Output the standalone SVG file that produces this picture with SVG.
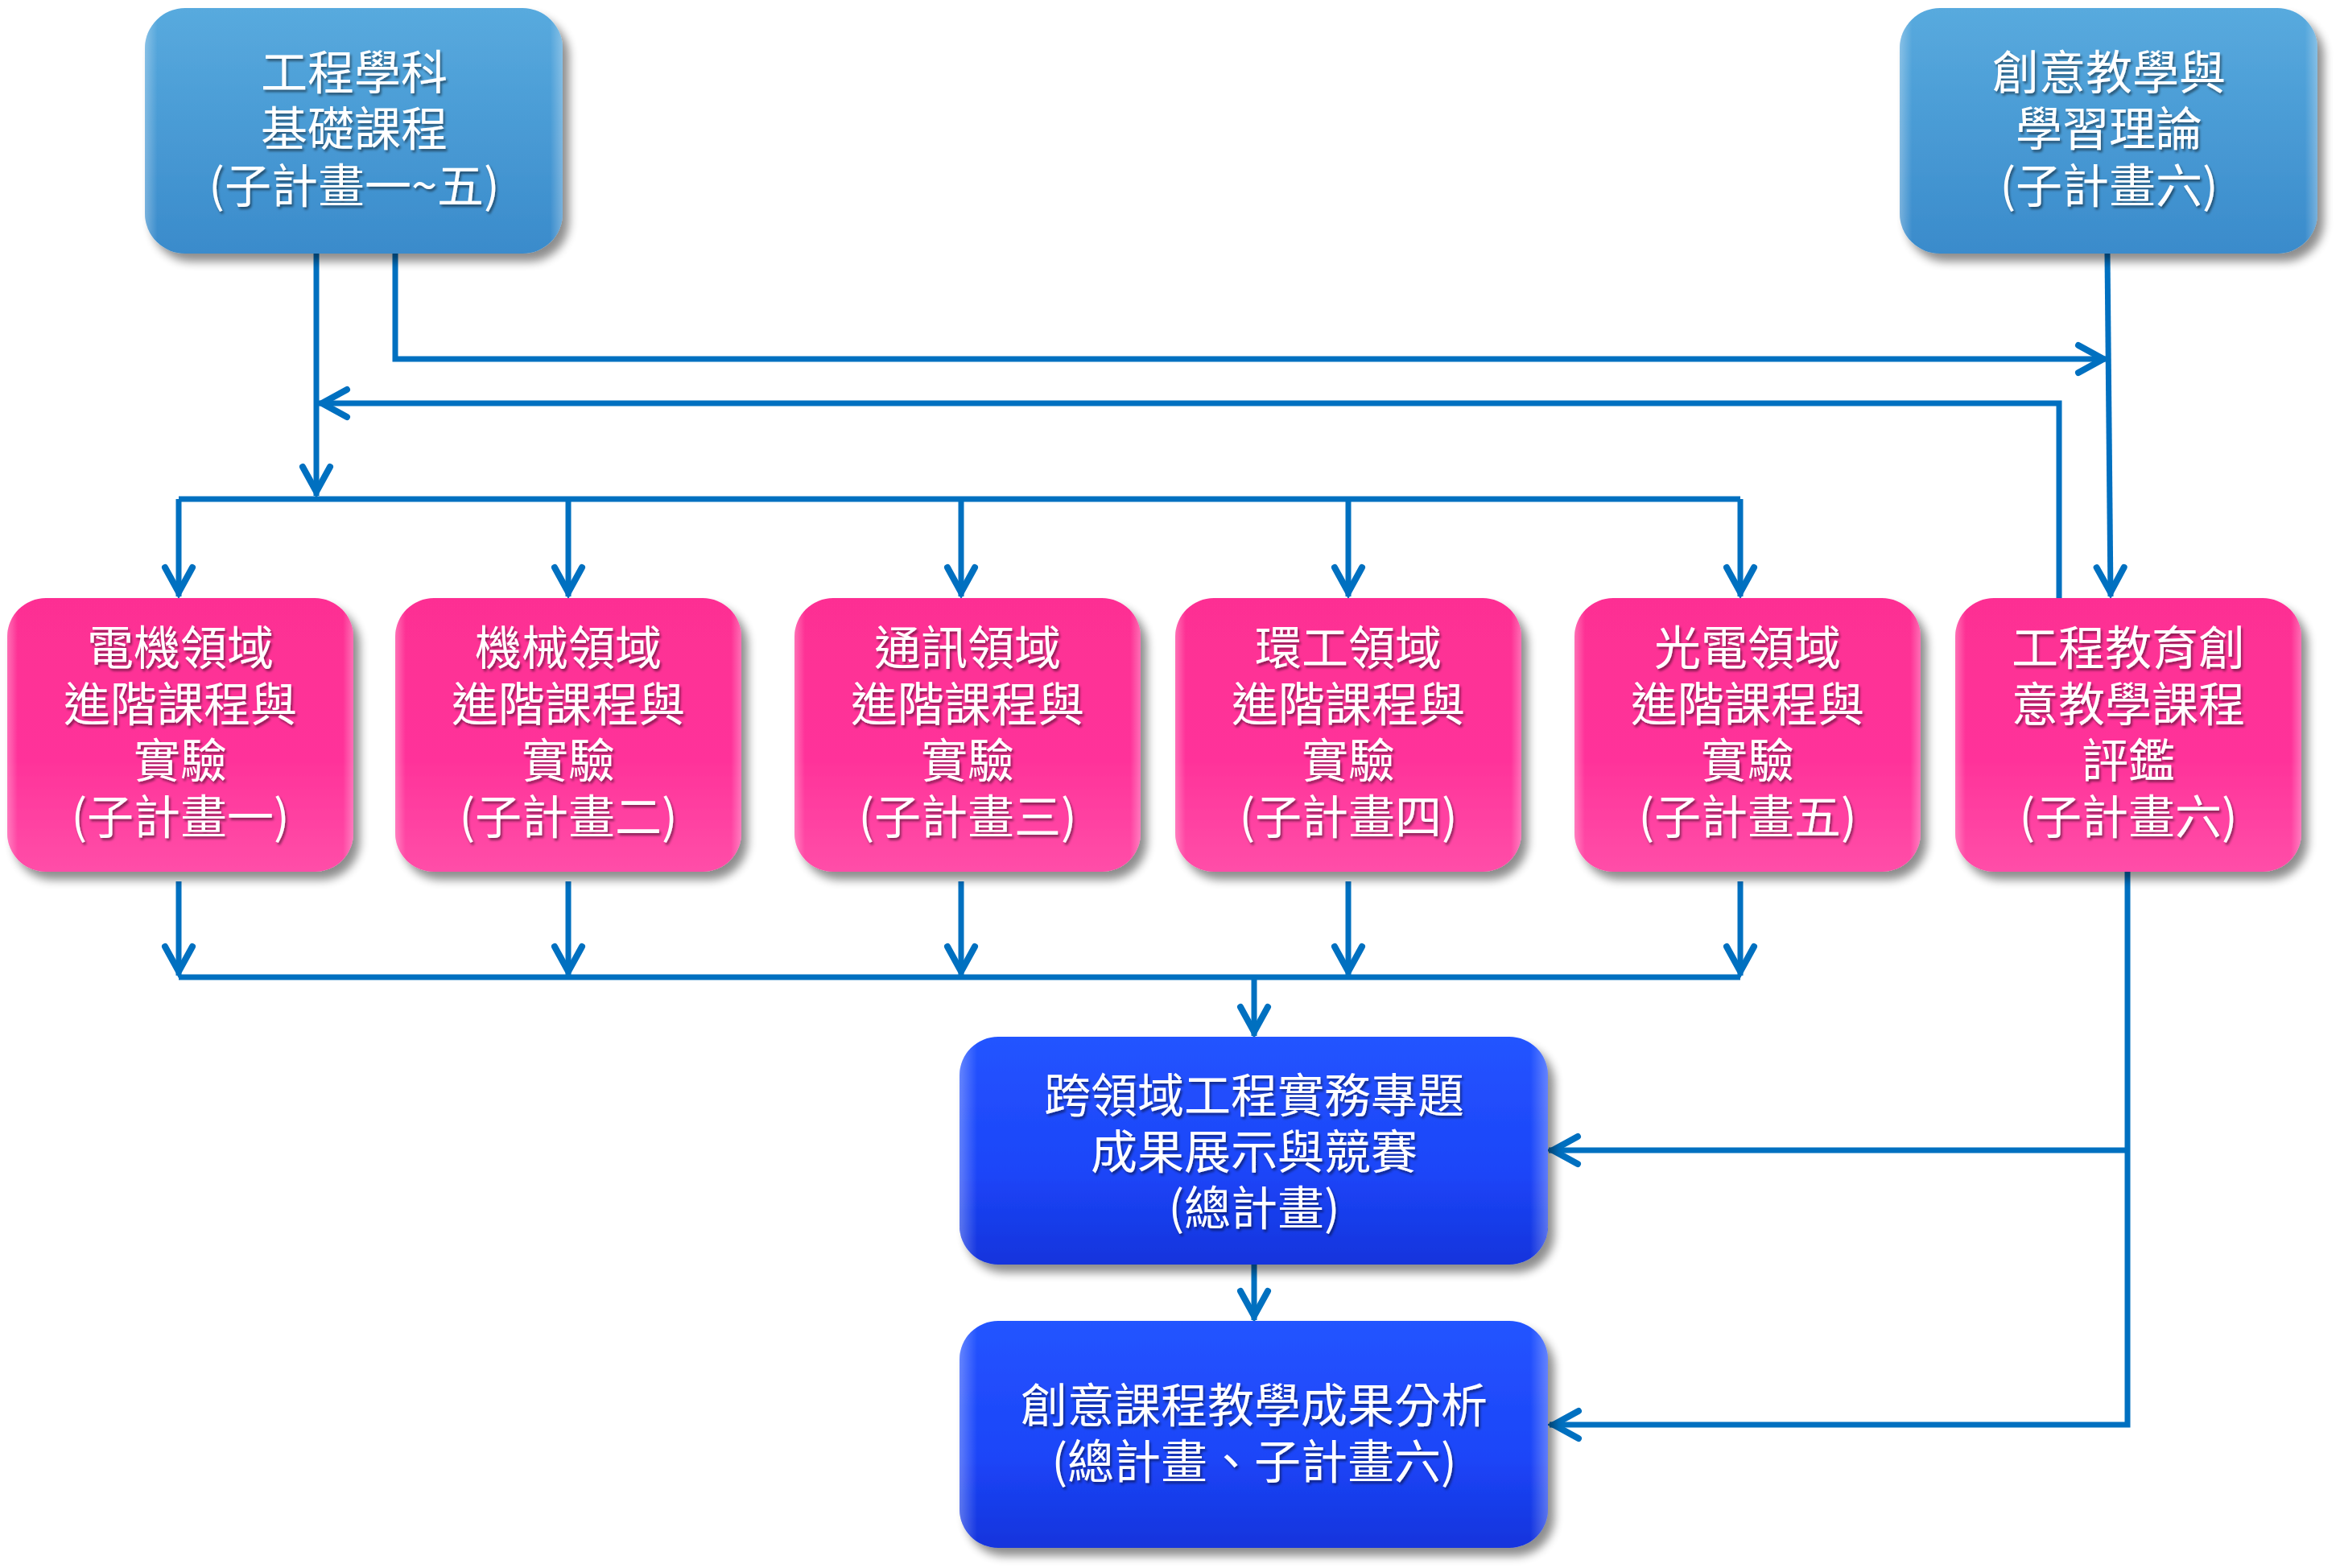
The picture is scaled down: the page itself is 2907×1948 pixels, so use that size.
<svg xmlns="http://www.w3.org/2000/svg" width="2907" height="1948" viewBox="0 0 2907 1948">
<defs>
<linearGradient id="gTop" x1="0" y1="0" x2="0" y2="1">
<stop offset="0" stop-color="#58aade"/>
<stop offset="1" stop-color="#3a8bcb"/>
</linearGradient>
<linearGradient id="gPink" x1="0" y1="0" x2="0" y2="1">
<stop offset="0" stop-color="#fd2f93"/>
<stop offset="0.6" stop-color="#ff339a"/>
<stop offset="1" stop-color="#ff4ea8"/>
</linearGradient>
<linearGradient id="gBlue" x1="0" y1="0" x2="0" y2="1">
<stop offset="0" stop-color="#2454ff"/>
<stop offset="0.6" stop-color="#1c45f8"/>
<stop offset="1" stop-color="#1434dc"/>
</linearGradient>
<linearGradient id="gEdge" x1="0" y1="0" x2="1" y2="0">
<stop offset="0" stop-color="#ffffff" stop-opacity="0.3"/>
<stop offset="0.03" stop-color="#ffffff" stop-opacity="0"/>
<stop offset="0.97" stop-color="#ffffff" stop-opacity="0"/>
<stop offset="1" stop-color="#ffffff" stop-opacity="0.3"/>
</linearGradient>
<filter id="shadow" x="-10%" y="-10%" width="125%" height="130%">
<feGaussianBlur in="SourceAlpha" stdDeviation="6"/>
<feOffset dx="8" dy="10" result="o"/>
<feComponentTransfer><feFuncA type="linear" slope="0.45"/></feComponentTransfer>
<feMerge><feMergeNode/><feMergeNode in="SourceGraphic"/></feMerge>
</filter>
<filter id="tshadow" x="-5%" y="-20%" width="115%" height="150%">
<feDropShadow dx="2" dy="3" stdDeviation="1.5" flood-color="#000000" flood-opacity="0.45"/>
</filter>
<marker id="arr" markerUnits="userSpaceOnUse" markerWidth="60" markerHeight="60" viewBox="-50 -30 60 60" refX="0" refY="0" orient="auto" overflow="visible">
<path d="M-36,-17 L-5,0 L-36,17" fill="none" stroke="#0070c0" stroke-width="8" stroke-linecap="round" stroke-linejoin="miter"/>
</marker>
</defs>
<style>
.t{font-family:"Noto Sans CJK TC","Noto Sans CJK SC",sans-serif;font-size:58px;fill:#ffffff;text-anchor:middle;filter:url(#tshadow)}
.c{fill:none;stroke:#0070c0;stroke-width:7}
.a{marker-end:url(#arr)}
.edge{fill:url(#gEdge)}
</style>
<rect width="2907" height="1948" fill="#ffffff"/>

<g id="connectors">
<path class="c a" d="M393,315 V616"/>
<path class="c a" d="M491,315 V446 H2618"/>
<path class="c a" d="M2618,315 L2622,741"/>
<path class="c a" d="M2558,743 V501 H395"/>
<path class="c" d="M222,620 H2162"/>
<path class="c a" d="M222,620 V741"/>
<path class="c a" d="M706,620 V741"/>
<path class="c a" d="M1194,620 V741"/>
<path class="c a" d="M1675,620 V741"/>
<path class="c a" d="M2162,620 V741"/>
<path class="c a" d="M222,1095 V1212"/>
<path class="c a" d="M706,1095 V1212"/>
<path class="c a" d="M1194,1095 V1212"/>
<path class="c a" d="M1675,1095 V1212"/>
<path class="c a" d="M2162,1095 V1212"/>
<path class="c" d="M222,1214 H2162"/>
<path class="c a" d="M1558,1214 V1287"/>
<path class="c a" d="M1558,1571 V1640"/>
<path class="c a" d="M2643,1083 V1770 H1925"/>
<path class="c a" d="M2643,1429 H1924"/>
</g>

<g id="n-basic">
<rect x="180" y="10" width="519" height="305" rx="50" fill="url(#gTop)" filter="url(#shadow)"/>
<rect x="180" y="10" width="519" height="305" rx="50" class="edge"/>
<text class="t" x="440" y="111">工程學科</text>
<text class="t" x="440" y="181">基礎課程</text>
<text class="t" x="440" y="252">(子計畫一~五)</text>
</g>

<g id="n-theory">
<rect x="2360" y="10" width="519" height="305" rx="50" fill="url(#gTop)" filter="url(#shadow)"/>
<rect x="2360" y="10" width="519" height="305" rx="50" class="edge"/>
<text class="t" x="2620" y="111">創意教學與</text>
<text class="t" x="2620" y="181">學習理論</text>
<text class="t" x="2620" y="252">(子計畫六)</text>
</g>

<g id="n-ee">
<rect x="9" y="743" width="430" height="340" rx="48" fill="url(#gPink)" filter="url(#shadow)"/>
<rect x="9" y="743" width="430" height="340" rx="48" class="edge"/>
<text class="t" x="224" y="826">電機領域</text>
<text class="t" x="224" y="896">進階課程與</text>
<text class="t" x="224" y="966">實驗</text>
<text class="t" x="224" y="1036">(子計畫一)</text>
</g>

<g id="n-me">
<rect x="491" y="743" width="430" height="340" rx="48" fill="url(#gPink)" filter="url(#shadow)"/>
<rect x="491" y="743" width="430" height="340" rx="48" class="edge"/>
<text class="t" x="706" y="826">機械領域</text>
<text class="t" x="706" y="896">進階課程與</text>
<text class="t" x="706" y="966">實驗</text>
<text class="t" x="706" y="1036">(子計畫二)</text>
</g>

<g id="n-comm">
<rect x="987" y="743" width="430" height="340" rx="48" fill="url(#gPink)" filter="url(#shadow)"/>
<rect x="987" y="743" width="430" height="340" rx="48" class="edge"/>
<text class="t" x="1202" y="826">通訊領域</text>
<text class="t" x="1202" y="896">進階課程與</text>
<text class="t" x="1202" y="966">實驗</text>
<text class="t" x="1202" y="1036">(子計畫三)</text>
</g>

<g id="n-env">
<rect x="1460" y="743" width="430" height="340" rx="48" fill="url(#gPink)" filter="url(#shadow)"/>
<rect x="1460" y="743" width="430" height="340" rx="48" class="edge"/>
<text class="t" x="1675" y="826">環工領域</text>
<text class="t" x="1675" y="896">進階課程與</text>
<text class="t" x="1675" y="966">實驗</text>
<text class="t" x="1675" y="1036">(子計畫四)</text>
</g>

<g id="n-opto">
<rect x="1956" y="743" width="430" height="340" rx="48" fill="url(#gPink)" filter="url(#shadow)"/>
<rect x="1956" y="743" width="430" height="340" rx="48" class="edge"/>
<text class="t" x="2171" y="826">光電領域</text>
<text class="t" x="2171" y="896">進階課程與</text>
<text class="t" x="2171" y="966">實驗</text>
<text class="t" x="2171" y="1036">(子計畫五)</text>
</g>

<g id="n-eval">
<rect x="2429" y="743" width="430" height="340" rx="48" fill="url(#gPink)" filter="url(#shadow)"/>
<rect x="2429" y="743" width="430" height="340" rx="48" class="edge"/>
<text class="t" x="2644" y="826">工程教育創</text>
<text class="t" x="2644" y="896">意教學課程</text>
<text class="t" x="2644" y="966">評鑑</text>
<text class="t" x="2644" y="1036">(子計畫六)</text>
</g>

<g id="n-project">
<rect x="1192" y="1288" width="731" height="283" rx="48" fill="url(#gBlue)" filter="url(#shadow)"/>
<rect x="1192" y="1288" width="731" height="283" rx="48" class="edge"/>
<text class="t" x="1558" y="1382">跨領域工程實務專題</text>
<text class="t" x="1558" y="1452">成果展示與競賽</text>
<text class="t" x="1558" y="1522">(總計畫)</text>
</g>

<g id="n-analysis">
<rect x="1192" y="1641" width="731" height="282" rx="48" fill="url(#gBlue)" filter="url(#shadow)"/>
<rect x="1192" y="1641" width="731" height="282" rx="48" class="edge"/>
<text class="t" x="1558" y="1767">創意課程教學成果分析</text>
<text class="t" x="1558" y="1837">(總計畫、子計畫六)</text>
</g>
</svg>
